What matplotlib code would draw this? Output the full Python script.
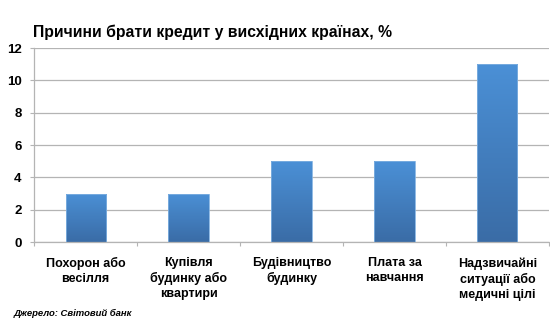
import matplotlib.pyplot as plt
import numpy as np
from matplotlib.colors import LinearSegmentedColormap

plt.rcParams['font.family'] = ['Liberation Sans', 'DejaVu Sans']

categories = ['Похорон або\nвесілля', 'Купівля\nбудинку або\nквартири', 'Будівництво\nбудинку',
              'Плата за\nнавчання', 'Надзвичайні\nситуації або\nмедичні цілі']
values = [3, 3, 5, 5, 11]
yticks = [0, 2, 4, 6, 8, 10, 12]

fig = plt.figure(figsize=(5.5, 3.29), dpi=100)
ax = fig.add_axes([0.062, 0.2644, 0.936, 0.5896])

x = np.arange(len(values))
bars = ax.bar(x, values, width=0.39, color='none', edgecolor='#7fb0e0', linewidth=0.6, zorder=3)

# vertical gradient inside each bar
cmap = LinearSegmentedColormap.from_list('g', ['#3a6ca6', '#4b90d6'])
grad = np.linspace(0, 1, 256).reshape(-1, 1)
for b in bars:
    x0, w, h = b.get_x(), b.get_width(), b.get_height()
    im = ax.imshow(grad, cmap=cmap, origin='lower', aspect='auto',
                   extent=[x0, x0 + w, 0, h], zorder=2)
    im.set_clip_path(b)

ax.set_xlim(-0.5, len(values) - 0.5)
ax.set_ylim(0, 12)
ax.set_yticks(yticks, [str(t) for t in yticks], fontsize=9.5, fontweight='bold')
ax.yaxis.grid(True, color='#b4b4b4', linewidth=0.9, zorder=0)
ax.set_axisbelow(True)

ax.set_xticks(np.arange(-0.5, len(values), 1))
ax.set_xticklabels([])
ax.set_xticks(x, minor=True)
ax.set_xticklabels(categories, minor=True, fontsize=9, fontweight='bold', linespacing=1.3)
ax.tick_params(axis='x', which='minor', length=0, pad=11)
ax.tick_params(axis='x', which='major', length=3, color='#b4b4b4', direction='out')
ax.tick_params(axis='y', length=3, color='#b4b4b4', pad=6)

for s in ['top', 'right']:
    ax.spines[s].set_visible(False)
for s in ['left', 'bottom']:
    ax.spines[s].set_color('#b4b4b4')
    ax.spines[s].set_linewidth(0.9)

fig.text(0.06, 0.887, 'Причини брати кредит у висхідних країнах, %', fontsize=11.3,
         fontweight='bold', va='baseline', ha='left')
fig.text(0.024, 0.038, 'Джерело: Світовий банк', fontsize=6.8, fontweight='bold',
         style='italic', va='baseline', ha='left')

fig.savefig('out.png', dpi=100)
